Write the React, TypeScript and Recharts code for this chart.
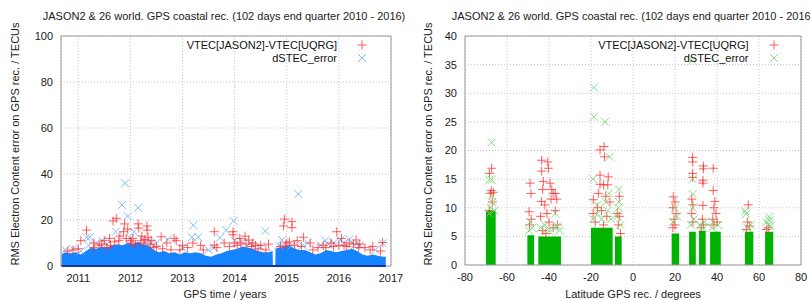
import React from 'react';
import {
  ComposedChart,
  Area,
  Scatter,
  XAxis,
  YAxis,
  CartesianGrid,
  ReferenceArea,
  ReferenceLine,
  Legend,
} from 'recharts';

// ---------- text ----------
const TITLE = 'JASON2 & 26 world. GPS coastal rec. (102 days end quarter 2010 - 2016)';
const Y_LABEL = 'RMS Electron Content error on GPS rec. / TECUs';
const TIME_X_LABEL = 'GPS time / years';
const LAT_X_LABEL = 'Latitude GPS rec. / degrees';
const SERIES_DIFF = 'VTEC[JASON2]-VTEC[UQRG]';
const SERIES_DSTEC = 'dSTEC_error';

// ---------- axes ----------
const timeDomain = [2010.67, 2017];
const timeTicks = [2011, 2012, 2013, 2014, 2015, 2016, 2017];
const timeValueTicks = [0, 20, 40, 60, 80, 100];
const latDomain = [-80, 80];
const latTicks = [-80, -60, -40, -20, 0, 20, 40, 60, 80];
const latValueTicks = [0, 5, 10, 15, 20, 25, 30, 35, 40];

// ---------- left panel: dense core of dSTEC points (upper edge, TECU) ----------
const timeCoreYears = [
  2010.68, 2010.75, 2010.85, 2010.95, 2011.05, 2011.15, 2011.25, 2011.35, 2011.45, 2011.55,
  2011.65, 2011.75, 2011.85, 2011.95, 2012.05, 2012.15, 2012.25, 2012.35, 2012.45, 2012.55,
  2012.65, 2012.75, 2012.85, 2012.95, 2013.05, 2013.15, 2013.25, 2013.35, 2013.45, 2013.55,
  2013.65, 2013.75, 2013.85, 2013.95, 2014.05, 2014.15, 2014.25, 2014.35, 2014.45, 2014.55,
  2014.65, 2014.73, 2014.735, 2014.78, 2014.785, 2014.85, 2014.95, 2015.05, 2015.15, 2015.25,
  2015.35, 2015.45, 2015.55, 2015.65, 2015.75, 2015.85, 2015.95, 2016.05, 2016.15, 2016.25,
  2016.35, 2016.45, 2016.55, 2016.65, 2016.75, 2016.85, 2016.9,
];
const timeCoreTop = [
  5, 6, 5.5, 6, 5, 6.5, 8, 7.5, 8.5, 8,
  9, 9.5, 9, 10, 9.5, 10.5, 9.5, 9, 7, 6,
  6.5, 5.5, 6, 5, 6, 5.5, 6, 5.5, 4.5, 4,
  5, 5.5, 6.5, 7, 7.5, 8.5, 8, 7.5, 6.5, 6,
  6, 6.5, 0, 0, 7.5, 8, 8.5, 9, 7.5, 7,
  7, 6, 5, 5.5, 7, 6.5, 6, 6.5, 7, 7.5,
  6.5, 5, 4.5, 5, 4.5, 4, 4,
];

// left panel outliers: [year, TECU]
const timeDiffPoints = [
  [2011.16, 15.6], [2011.67, 19.6], [2011.73, 20.7], [2011.89, 18.3], [2011.95, 16], [2011.87, 14.9],
  [2012.15, 18.3], [2012.16, 16.5], [2012.32, 17.4], [2012.32, 15.6], [2012.34, 12.5], [2012.59, 12.7],
  [2012.84, 12], [2012.88, 11], [2014.96, 20.4], [2014.94, 17.4], [2015.1, 19.3], [2015.1, 16.7],
  [2015.96, 14.9], [2013.97, 14.9], [2013.97, 13.5], [2013.61, 14.9], [2013.61, 9.1], [2015.32, 12.5],
  [2014.27, 11.3], [2016.33, 11.3], [2016.84, 10.2], [2011.05, 11], [2011.3, 10], [2011.5, 11],
  [2011.6, 12], [2011.8, 13], [2012.05, 12], [2012.22, 13], [2012.4, 11], [2012.7, 10],
  [2013.0, 9], [2013.2, 10], [2013.35, 9], [2013.8, 10], [2014.1, 12], [2014.2, 13],
  [2014.35, 10], [2014.5, 9], [2014.65, 9.5], [2015.2, 11], [2015.45, 10], [2015.7, 9],
  [2015.85, 10], [2016.05, 12], [2016.2, 10], [2016.5, 8], [2016.65, 8.5], [2010.9, 7],
  [2011.4, 9], [2011.7, 10.5], [2012.0, 11], [2012.28, 11.5], [2012.5, 8.5], [2013.1, 8],
  [2014.0, 10], [2014.4, 9], [2015.0, 10], [2015.6, 8], [2016.1, 9], [2016.4, 9.5],
  [2011.3, 8], [2011.45, 9.5], [2011.55, 8], [2011.62, 9], [2011.78, 11], [2011.92, 12],
  [2012.02, 10], [2012.1, 9.5], [2012.2, 11], [2012.26, 10], [2012.38, 9.5], [2012.45, 8],
  [2012.62, 7.5], [2012.78, 7], [2012.95, 7], [2013.4, 7], [2013.66, 8], [2013.9, 8.5],
  [2014.05, 9], [2014.12, 10], [2014.22, 9.5], [2014.32, 8.5], [2014.45, 7.5], [2014.6, 7],
  [2014.88, 8.5], [2014.98, 9], [2015.05, 10.5], [2015.15, 9], [2015.28, 8.5], [2015.5, 7],
  [2015.75, 8], [2015.9, 8.5], [2016.0, 9], [2016.15, 8.5], [2016.28, 9.5], [2016.38, 8],
  [2016.6, 7], [2016.8, 6.5], [2011.0, 7.5], [2010.8, 6.5],
];
const timeDstecPoints = [
  [2011.9, 36], [2011.84, 26.5], [2011.95, 21.7], [2012.15, 25.3], [2015.22, 31.3], [2013.21, 17.7],
  [2013.98, 19.6], [2013.84, 15.6], [2014.59, 15.2], [2013.18, 12.5], [2013.3, 12.5], [2013.72, 12.3],
  [2012.72, 11.6], [2011.16, 12.5], [2011.22, 12.5], [2011.72, 14.9], [2012.07, 14.9], [2015.74, 11],
  [2016.03, 11.3], [2016.2, 11.6], [2016.84, 9.9], [2014.91, 11.3], [2011.46, 11], [2010.75, 7],
  [2010.9, 7.5], [2011.05, 6.5], [2012.5, 10], [2014.3, 10], [2015.4, 10], [2015.9, 10], [2016.4, 9],
  [2011.35, 10], [2012.3, 11], [2013.5, 7], [2014.15, 10.5], [2015.1, 9], [2015.8, 9.5],
  [2011.2, 9], [2011.55, 9.5], [2012.0, 12], [2012.4, 10], [2013.0, 8], [2013.6, 8],
  [2014.0, 11], [2014.5, 8.5], [2014.85, 9], [2015.3, 9], [2015.65, 9], [2016.1, 10],
  [2016.3, 9], [2016.7, 7],
];

// ---------- right panel: dense core per receiver latitude band (step edges) ----------
const latCoreEdges = [
  -70, -65.4, -50.3, -47.1, -45.1, -34.3, -20, -9.7, -8.6, -5.4,
  18.4, 22, 26.7, 29.9, 31.4, 34.6, 36.7, 41.8, 53.3, 57.3, 62.9, 66.8,
];
const latCoreTop = [
  9.5, 0, 5.2, 0, 5, 0, 6.5, 0, 5, 0,
  5.5, 0, 5.8, 0, 6, 0, 5.8, 0, 5.8, 0, 5.8, 0,
];

// right panel outliers: [latitude, TECU]
const latDiffPoints = [
  [-67.3, 16.9], [-68.4, 16], [-67.5, 13], [-66.5, 12.7], [-68, 12.5], [-67, 11], [-68.5, 9.5],
  [-49, 14.3], [-48.6, 12.5], [-49.5, 9.3], [-48.5, 8], [-49.3, 7],
  [-43.5, 18.3], [-40.6, 18], [-40.3, 16.9], [-43.5, 16.4], [-42.7, 14.6], [-39.5, 14.3], [-43, 13.2],
  [-38.7, 13.2], [-38, 12.5], [-37, 12.5], [-43.5, 11.1], [-36.3, 11.5], [-42, 10.5], [-39, 11.5],
  [-41, 9], [-37, 9.5], [-44, 8.5], [-40, 7.5], [-36, 7], [-43, 6], [-38, 6.5], [-41.5, 5.5],
  [-13.8, 20.7], [-15.7, 20.1], [-13.6, 18.9], [-15.7, 15.7], [-15.7, 14.1], [-11.8, 15.4],
  [-18.9, 11.4], [-14, 14], [-12, 14], [-16.5, 12.5], [-13, 12], [-11, 11], [-17, 10], [-15, 9.5],
  [-19, 9], [-12.5, 8.5], [-18, 7.5], [-14, 7],
  [-6.5, 12], [-7.5, 9], [-6.5, 8.5], [-7, 7], [-6, 5.5],
  [19.2, 11.9], [20, 11], [19, 10], [20.5, 9], [19.5, 8], [20, 7], [19, 6.5],
  [28.4, 18.8], [28.4, 18], [28.4, 16], [28.4, 15.3], [28, 11.5], [28.5, 10.5], [28, 9], [28.5, 7.5],
  [33.5, 17.3], [33.5, 16.8], [33.3, 14.8], [33.3, 14.3], [33.3, 10.4], [33, 8], [33.5, 7], [32.5, 6.5],
  [38.2, 16.9], [38.2, 13], [39, 11.1], [38.5, 10], [39.5, 9], [38, 8], [40, 7.5], [38.5, 7],
  [54.9, 10.5], [54.5, 7.5], [55.5, 6.8], [54, 6.2],
  [64.4, 6.5], [63.5, 6.2],
];
const latDstecPoints = [
  [-67.3, 21.4], [-68.4, 14.9], [-67.3, 14.9], [-67, 11], [-67.8, 10],
  [-18.6, 31], [-18.6, 25.9], [-13.3, 25], [28.2, 35.7], [-11.1, 18.9], [-19, 15], [-11.5, 12.5],
  [-13, 11], [-17, 10.5], [-6.7, 13.2], [-6.7, 11], [-7, 10], [-37, 9], [-42, 7],
  [28.4, 15], [28.4, 12.4], [28.4, 10], [53.4, 9.4], [53.9, 8.9], [64.9, 8.4], [64.9, 7.8],
  [64.5, 7], [38, 7.5], [20, 10], [33, 6.5], [-49, 7.5], [-36, 6.8],
  [-68.5, 9], [-66, 9.5], [-67, 12], [-49.5, 6], [-48, 6.5], [-44, 6.5], [-40, 6], [-37.5, 6.5],
  [-35, 6], [-19, 8], [-17, 9], [-15, 8], [-12, 9.5], [-10.5, 8], [-7.5, 8.5], [-6, 7],
  [19, 7.5], [21, 8.5], [27.5, 7], [29, 8], [32, 7], [34, 7.5], [37.5, 6.5], [40.5, 7],
  [54.5, 6.5], [56, 7], [63.5, 7.5], [65.5, 6.8],
];

// ---------- helpers ----------
const toXY = (pairs: number[][]) => pairs.map(([x, y]) => ({ x, y }));
const zipXY = (xs: number[], ys: number[]) => xs.map((x, i) => ({ x, y: ys[i] }));

const FONT = '"Liberation Sans", Arial, sans-serif';
const RED = '#ff2a2a';
const BLUE_LIGHT = '#6cb2ff';
const BLUE_CORE = '#1585ff';
const GREEN_LIGHT = '#6fd86f';
const GREEN_CORE = '#00b300';
const BORDER = '#9a9a9a';

const PlusShape = (props: any) => {
  const { cx, cy } = props;
  if (cx == null || cy == null) return null;
  return (
    <path
      d={`M${cx - 4.5},${cy}h9M${cx},${cy - 4.5}v9`}
      stroke={RED}
      strokeOpacity={0.75}
      strokeWidth={1}
      fill="none"
    />
  );
};

const makeCross = (color: string) => (props: any) => {
  const { cx, cy } = props;
  if (cx == null || cy == null) return null;
  return (
    <path
      d={`M${cx - 4},${cy - 4}L${cx + 4},${cy + 4}M${cx - 4},${cy + 4}L${cx + 4},${cy - 4}`}
      stroke={color}
      strokeOpacity={0.85}
      strokeWidth={1}
      fill="none"
    />
  );
};
const BlueCross = makeCross(BLUE_LIGHT);
const GreenCross = makeCross(GREEN_LIGHT);

const LegendBox = ({ crossColor }: { crossColor: string }) => {
  const rows = [
    { label: SERIES_DIFF, kind: 'plus' },
    { label: SERIES_DSTEC, kind: 'cross' },
  ];
  return (
    <div style={{ fontFamily: FONT, fontSize: 11, color: '#111' }}>
      {rows.map((r) => (
        <div key={r.label} style={{ display: 'flex', alignItems: 'center', height: 12.7 }}>
          <span style={{ width: 190, textAlign: 'right', whiteSpace: 'nowrap' }}>{r.label}</span>
          <svg width={50} height={12} style={{ display: 'block' }}>
            {r.kind === 'plus' ? (
              <path d="M20.5,6h9M25,1.5v9" stroke={RED} strokeOpacity={0.75} fill="none" />
            ) : (
              <path d="M21,2L29,10M21,10L29,2" stroke={crossColor} strokeOpacity={0.85} fill="none" />
            )}
          </svg>
        </div>
      ))}
    </div>
  );
};

const tickStyle = { fontFamily: FONT, fontSize: 11, fill: '#1a1a1a' };

const textStyle: React.CSSProperties = {
  position: 'absolute',
  fontFamily: FONT,
  fontSize: 11,
  color: '#1a1a1a',
  whiteSpace: 'nowrap',
  lineHeight: '13px',
};

function TimePanel() {
  const core = zipXY(timeCoreYears, timeCoreTop);
  return (
    <ComposedChart
      width={405}
      height={300}
      data={core}
      margin={{ top: 36, right: 14, bottom: 0, left: 0 }}
    >
      <CartesianGrid stroke="#c4c4c4" strokeDasharray="1 2" />
      <XAxis
        dataKey="x"
        type="number"
        domain={timeDomain}
        ticks={timeTicks}
        allowDataOverflow
        tickLine={false}
        axisLine={false}
        height={34}
        tick={tickStyle}
      />
      <YAxis
        dataKey="y"
        type="number"
        domain={[0, 100]}
        ticks={timeValueTicks}
        allowDataOverflow
        tickLine={false}
        axisLine={false}
        width={61}
        tick={tickStyle}
      />
      <Area
        dataKey="y"
        type="linear"
        stroke="none"
        fill={BLUE_CORE}
        fillOpacity={1}
        isAnimationActive={false}
        legendType="none"
      />
      <Scatter
        name={SERIES_DSTEC}
        data={toXY(timeDstecPoints)}
        dataKey="y"
        shape={BlueCross}
        isAnimationActive={false}
      />
      <Scatter
        name={SERIES_DIFF}
        data={toXY(timeDiffPoints)}
        dataKey="y"
        shape={PlusShape}
        isAnimationActive={false}
      />
      <ReferenceLine
        segment={[
          { x: timeCoreYears[0], y: 0 },
          { x: timeCoreYears[timeCoreYears.length - 1], y: 0 },
        ]}
        stroke="#16359a"
        strokeWidth={2}
      />
      <ReferenceArea
        x1={timeDomain[0]}
        x2={timeDomain[1]}
        y1={0}
        y2={100}
        fill="none"
        stroke={BORDER}
        strokeWidth={1}
        ifOverflow="visible"
      />
      <Legend
        layout="horizontal"
        verticalAlign="middle"
        align="center"
        content={() => <LegendBox crossColor={BLUE_LIGHT} />}
        wrapperStyle={{ position: 'absolute', left: 147, top: 38.5, width: 240 }}
      />
    </ComposedChart>
  );
}

function LatPanel() {
  const core = zipXY(latCoreEdges, latCoreTop);
  return (
    <ComposedChart
      width={405}
      height={300}
      data={core}
      margin={{ top: 36, right: 9, bottom: 0, left: 0 }}
    >
      <CartesianGrid stroke="#c4c4c4" strokeDasharray="1 2" />
      <XAxis
        dataKey="x"
        type="number"
        domain={latDomain}
        ticks={latTicks}
        allowDataOverflow
        tickLine={false}
        axisLine={false}
        height={35}
        tick={tickStyle}
      />
      <YAxis
        dataKey="y"
        type="number"
        domain={[0, 40]}
        ticks={latValueTicks}
        allowDataOverflow
        tickLine={false}
        axisLine={false}
        width={60}
        tick={tickStyle}
      />
      <Area
        dataKey="y"
        type="stepAfter"
        stroke="none"
        fill={GREEN_CORE}
        fillOpacity={1}
        isAnimationActive={false}
        legendType="none"
      />
      <Scatter
        name={SERIES_DIFF}
        data={toXY(latDiffPoints)}
        dataKey="y"
        shape={PlusShape}
        isAnimationActive={false}
      />
      <Scatter
        name={SERIES_DSTEC}
        data={toXY(latDstecPoints)}
        dataKey="y"
        shape={GreenCross}
        isAnimationActive={false}
      />
      <ReferenceArea
        x1={latDomain[0]}
        x2={latDomain[1]}
        y1={0}
        y2={40}
        fill="none"
        stroke={BORDER}
        strokeWidth={1}
        ifOverflow="visible"
      />
      <Legend
        layout="horizontal"
        verticalAlign="middle"
        align="center"
        content={() => <LegendBox crossColor={GREEN_LIGHT} />}
        wrapperStyle={{ position: 'absolute', left: 153.5, top: 38.5, width: 240 }}
      />
    </ComposedChart>
  );
}

export default function App() {
  return (
    <div
      style={{
        position: 'absolute',
        left: 0,
        top: 0,
        width: 810,
        height: 300,
        overflow: 'hidden',
        background: '#fff',
        fontFamily: FONT,
      }}
    >
      <div style={{ position: 'absolute', left: 0, top: 0 }}>
        <TimePanel />
      </div>
      <div style={{ position: 'absolute', left: 405, top: 0 }}>
        <LatPanel />
      </div>

      <div style={{ ...textStyle, left: 224, top: 10, transform: 'translateX(-50%)' }}>{TITLE}</div>
      <div style={{ ...textStyle, left: 633, top: 10, transform: 'translateX(-50%)' }}>{TITLE}</div>

      <div style={{ ...textStyle, left: 225, top: 288, transform: 'translateX(-50%)' }}>{TIME_X_LABEL}</div>
      <div style={{ ...textStyle, left: 633, top: 288, transform: 'translateX(-50%)' }}>{LAT_X_LABEL}</div>

      <div
        style={{
          ...textStyle,
          left: 15,
          top: 144,
          transform: 'translate(-50%, -50%) rotate(-90deg)',
        }}
      >
        {Y_LABEL}
      </div>
      <div
        style={{
          ...textStyle,
          left: 428,
          top: 144,
          transform: 'translate(-50%, -50%) rotate(-90deg)',
        }}
      >
        {Y_LABEL}
      </div>
    </div>
  );
}
